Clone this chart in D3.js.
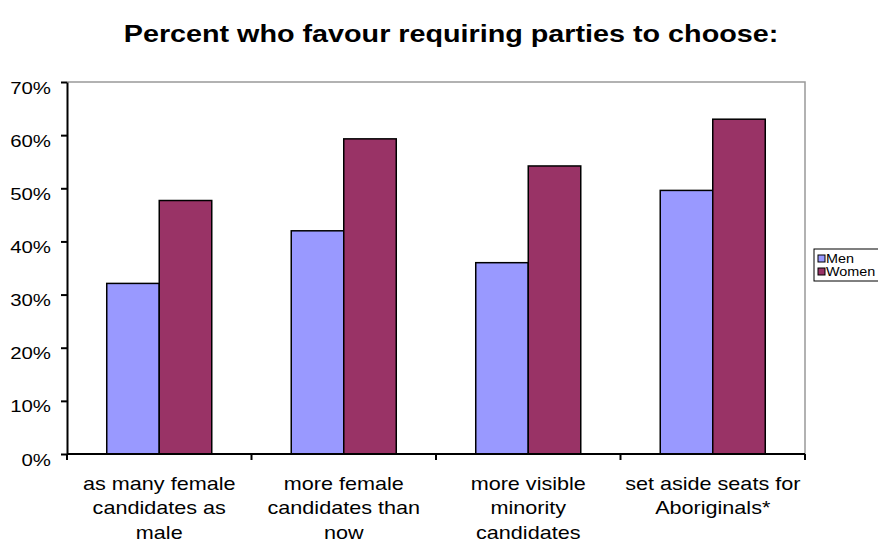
<!DOCTYPE html>
<html>
<head>
<meta charset="utf-8">
<script src="https://cdn.jsdelivr.net/npm/d3@7"></script>
<style>
  body { margin: 0; background: #fff; }
  text { font-family: "Liberation Sans", Arial, sans-serif; fill: #000; }
</style>
</head>
<body>
<script>
// chart data
const categories = [
  ["as many female", "candidates as", "male"],
  ["more female", "candidates than", "now"],
  ["more visible", "minority", "candidates"],
  ["set aside seats for", "Aboriginals*"]
];
const seriesNames = ["Men", "Women"];
const menValues = [32.1, 42.0, 36.0, 49.6];
const womenValues = [47.7, 59.3, 54.2, 63.0];
const yTicks = [0, 10, 20, 30, 40, 50, 60, 70];
const colors = ["#9999FF", "#993366"];

const width = 878, height = 544;
const plot = { left: 67, right: 805, top: 82, bottom: 454 };
const stretch = 1.2; // text in the original is a bit wider than it is tall

const svg = d3.select("body").append("svg")
  .attr("width", width)
  .attr("height", height);

// title
svg.append("text")
  .attr("transform", `translate(451,42) scale(1.25,1)`)
  .attr("text-anchor", "middle")
  .attr("font-size", "23px")
  .attr("font-weight", "bold")
  .text("Percent who favour requiring parties to choose:");

const x = d3.scaleBand()
  .domain(d3.range(categories.length))
  .range([plot.left, plot.right]);

const xInner = d3.scaleBand()
  .domain(seriesNames)
  .range([0, x.bandwidth()])
  .paddingOuter(0.757);

const y = d3.scaleLinear()
  .domain([0, 70])
  .range([plot.bottom, plot.top]);

// plot border (gray top/right)
svg.append("path")
  .attr("d", `M${plot.left},${plot.top}H${plot.right}V${plot.bottom}`)
  .attr("fill", "none")
  .attr("stroke", "#999")
  .attr("stroke-width", 1.5);

// bars
const data = categories.map((c, i) => [menValues[i], womenValues[i]]);
const groups = svg.selectAll("g.group")
  .data(data)
  .enter()
  .append("g")
  .attr("class", "group")
  .attr("transform", (d, i) => `translate(${x(i)},0)`);

groups.selectAll("rect")
  .data(d => d.map((v, j) => ({ name: seriesNames[j], value: v, color: colors[j] })))
  .enter()
  .append("rect")
  .attr("x", d => xInner(d.name))
  .attr("y", d => y(d.value))
  .attr("width", xInner.bandwidth())
  .attr("height", d => y(0) - y(d.value))
  .attr("fill", d => d.color)
  .attr("stroke", "#000")
  .attr("stroke-width", 1.5);

// y axis
const yAxis = svg.append("g")
  .attr("transform", `translate(${plot.left},0)`)
  .call(d3.axisLeft(y).tickValues(yTicks).tickFormat(d => d + "%").tickSize(6).tickSizeOuter(0));
yAxis.select(".domain").attr("stroke", "#000").attr("stroke-width", 2);
yAxis.selectAll(".tick line").attr("stroke", "#000").attr("stroke-width", 2);
yAxis.selectAll(".tick text")
  .attr("x", null)
  .attr("dy", null)
  .attr("transform", `translate(-16,11) scale(${stretch},1)`)
  .attr("font-size", "17px")
  .attr("font-family", "Liberation Sans, Arial, sans-serif");

// x axis: baseline and boundary ticks
svg.append("line")
  .attr("x1", plot.left).attr("x2", plot.right)
  .attr("y1", plot.bottom).attr("y2", plot.bottom)
  .attr("stroke", "#000").attr("stroke-width", 2);

const boundaries = d3.range(categories.length + 1).map(i => i < categories.length ? x(i) : x(i - 1) + x.bandwidth());
svg.selectAll("line.xtick")
  .data(boundaries)
  .enter()
  .append("line")
  .attr("class", "xtick")
  .attr("x1", d => d).attr("x2", d => d)
  .attr("y1", plot.bottom).attr("y2", plot.bottom + 6)
  .attr("stroke", "#000").attr("stroke-width", 2);

// category labels
const labels = svg.selectAll("text.xlabel")
  .data(categories)
  .enter()
  .append("text")
  .attr("class", "xlabel")
  .attr("text-anchor", "middle")
  .attr("font-size", "18px")
  .attr("transform", (d, i) => `translate(${x(i) + x.bandwidth() / 2},490) scale(${stretch},1)`);
labels.selectAll("tspan")
  .data(d => d)
  .enter()
  .append("tspan")
  .attr("x", 0)
  .attr("y", (d, i) => i * 24.5)
  .text(d => d);

// legend
const legend = svg.append("g").attr("transform", "translate(814,249)");
legend.append("rect")
  .attr("width", 70).attr("height", 32)
  .attr("fill", "#fff").attr("stroke", "#000").attr("stroke-width", 1);
const items = legend.selectAll("g.item")
  .data(seriesNames)
  .enter()
  .append("g")
  .attr("class", "item")
  .attr("transform", (d, i) => `translate(4,${6 + i * 13})`);
items.append("rect")
  .attr("width", 7).attr("height", 7)
  .attr("fill", (d, i) => colors[i])
  .attr("stroke", "#000").attr("stroke-width", 1);
items.append("text")
  .attr("transform", `translate(8,8) scale(${stretch},1)`)
  .attr("font-size", "12px")
  .text(d => d);
</script>
</body>
</html>
